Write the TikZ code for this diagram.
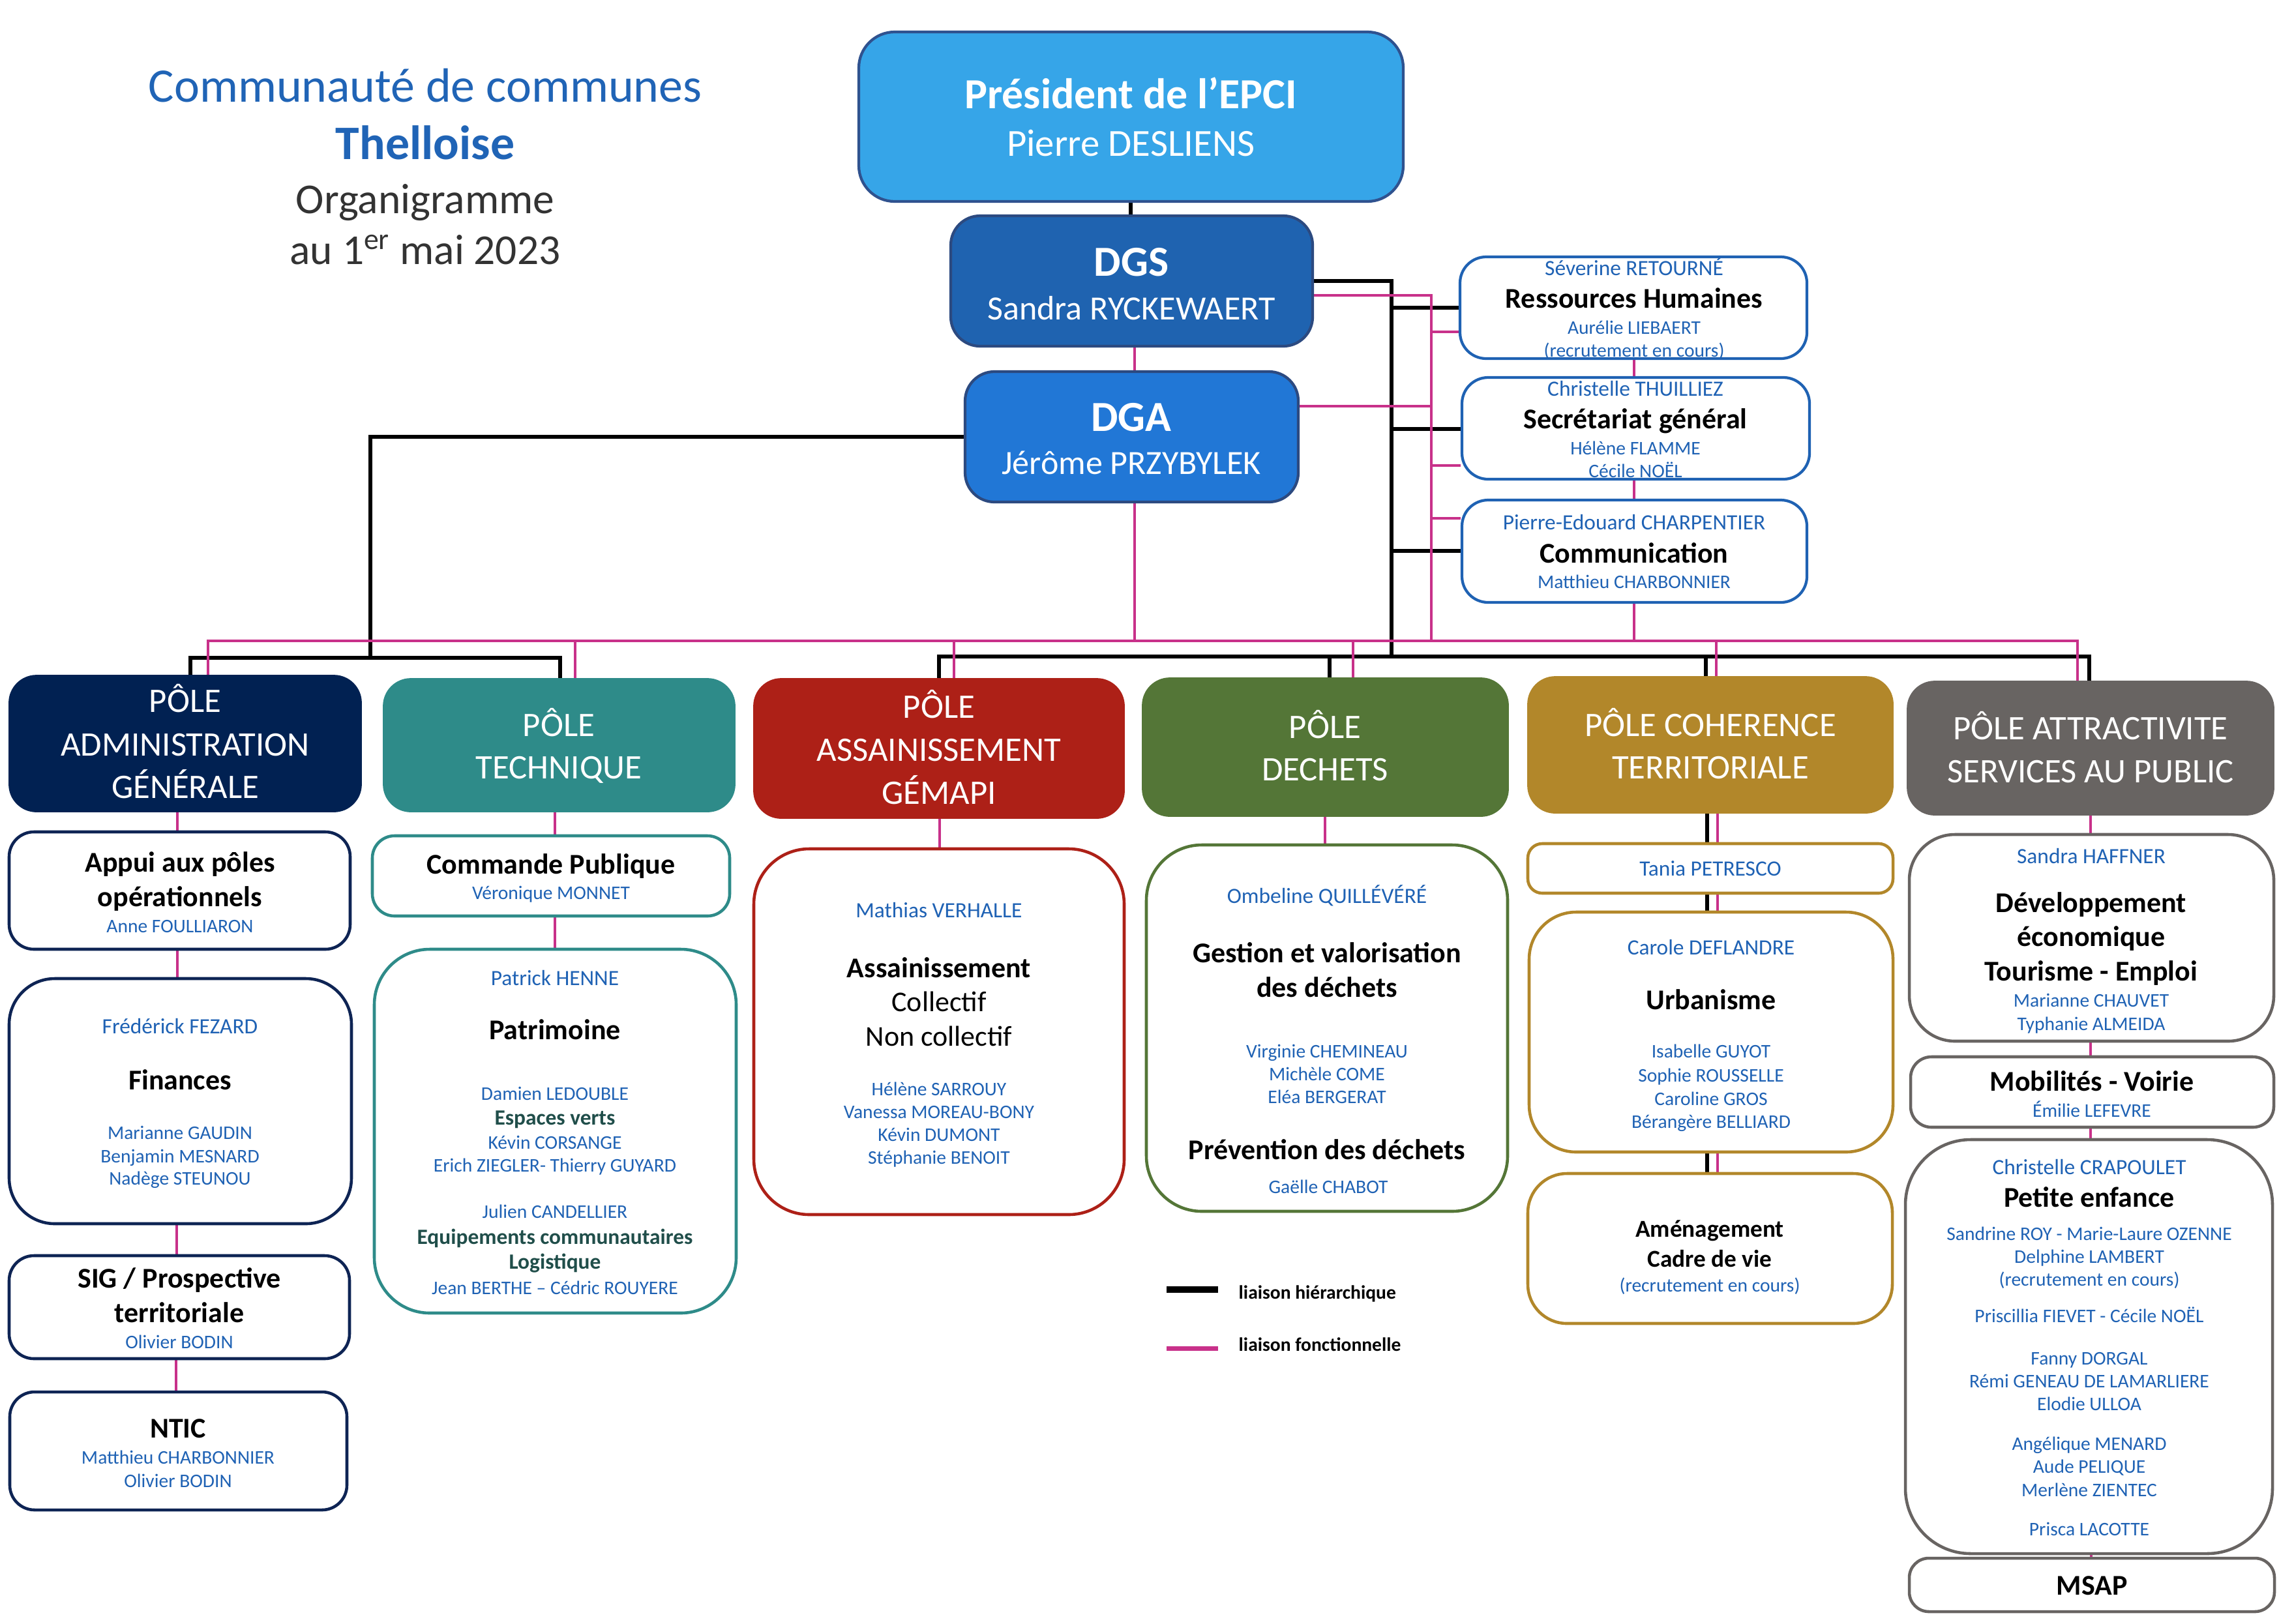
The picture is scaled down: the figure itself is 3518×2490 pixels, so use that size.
\documentclass[tikz,border=0pt]{standalone}
\usepackage{fontspec}
\setmainfont{Carlito}
\usetikzlibrary{backgrounds}
\definecolor{pres}{RGB}{54,165,232}
\definecolor{presb}{RGB}{47,82,143}
\definecolor{dgsc}{RGB}{31,99,176}
\definecolor{dgac}{RGB}{33,119,214}
\definecolor{dgb}{RGB}{44,74,128}
\definecolor{rhb}{RGB}{31,98,179}
\definecolor{mag}{RGB}{200,49,138}
\definecolor{nameblue}{RGB}{31,98,180}
\definecolor{titleblue}{RGB}{32,100,182}
\definecolor{titlegray}{RGB}{51,51,51}
\definecolor{pa}{RGB}{1,33,82}
\definecolor{pab}{RGB}{14,36,84}
\definecolor{pb}{RGB}{46,139,137}
\definecolor{pc}{RGB}{173,32,23}
\definecolor{pd}{RGB}{84,118,55}
\definecolor{pe}{RGB}{178,135,42}
\definecolor{pf}{RGB}{104,100,98}
\definecolor{tealtext}{RGB}{32,78,74}
\newcommand\bx[6]{\node[#2, minimum width={(#5-#3)*0.01cm}, minimum height={(#6-#4)*0.01cm}, inner sep=0pt] (#1) at ({(#3+#5)/2},{(#4+#6)/2}) {};}
\newcommand\tx[5]{\node[#4, anchor=base, inner sep=0pt] (#1) at (#2,#3) {#5};}
\tikzset{
  presbox/.style={fill=pres, draw=presb, line width=1.2pt, rounded corners=0.55cm},
  dgsbox/.style={fill=dgsc, draw=dgb, line width=1.2pt, rounded corners=0.45cm},
  dgabox/.style={fill=dgac, draw=dgb, line width=1.2pt, rounded corners=0.45cm},
  rbox/.style={fill=white, draw=rhb, line width=1.2pt, rounded corners=0.4cm},
  polebox/.style={fill=#1, draw=#1, line width=0.5pt, rounded corners=0.42cm},
  sbox/.style 2 args={fill=white, draw=#1, line width=1.3pt, rounded corners=#2},
  hier/.style={line width=1.45pt, black},
  func/.style={line width=1pt, mag},
  ttitle/.style={font=\fontsize{21}{25}\selectfont, text=titleblue},
  ttitleb/.style={font=\fontsize{21}{25}\selectfont\bfseries, text=titleblue},
  tgray/.style={font=\fontsize{18.6}{22}\selectfont, text=titlegray},
  bigb/.style={font=\fontsize{18.7}{22}\selectfont\bfseries, text=white},
  bign/.style={font=\fontsize{16.7}{20}\selectfont, text=white},
  medn/.style={font=\fontsize{14.8}{18}\selectfont, text=white},
  polet/.style={font=\fontsize{15}{18}\selectfont, text=white},
  ttl/.style={font=\fontsize{12.5}{15}\selectfont\bfseries, text=black},
  ttr/.style={font=\fontsize{12.5}{15}\selectfont, text=black},
  ttm/.style={font=\fontsize{10.6}{13}\selectfont\bfseries, text=black},
  lead/.style={font=\fontsize{9.5}{11}\selectfont, text=nameblue},
  team/.style={font=\fontsize{8.4}{10}\selectfont, text=nameblue},
  tealb/.style={font=\fontsize{9.5}{11}\selectfont\bfseries, text=tealtext},
  legt/.style={font=\fontsize{8.4}{10}\selectfont\bfseries, text=black, anchor=base west}
}
\begin{document}
\begin{tikzpicture}[x=0.01cm, y=-0.01cm]
\useasboundingbox (0,0) rectangle (3518,2490);
% title
\tx{tA}{652}{156}{ttitle}{Communauté de communes}
\tx{tB}{652}{244}{ttitleb}{Thelloise}
\tx{tC}{652}{327}{tgray}{Organigramme}
\tx{tD}{652}{405}{tgray}{au 1\textsuperscript{er} mai 2023}
% top boxes
\bx{pres}{presbox}{1317}{49}{2152}{309}
\bx{dgs}{dgsbox}{1458}{331}{2013}{531}
\bx{dga}{dgabox}{1480}{570}{1991}{770}
\tx{presA}{1734}{166}{bigb}{Président de l’EPCI}
\tx{presB}{1734}{239}{bign}{Pierre DESLIENS}
\tx{dgsA}{1735}{423}{bigb}{DGS}
\tx{dgsB}{1735}{490}{medn}{Sandra RYCKEWAERT}
\tx{dgaA}{1735}{661}{bigb}{DGA}
\tx{dgaB}{1735}{727}{medn}{Jérôme PRZYBYLEK}
% right boxes
\bx{rh}{rbox}{2239}{394}{2771}{550}
\bx{sg}{rbox}{2242}{579}{2775}{735}
\bx{com}{rbox}{2242}{767}{2771}{924}
\tx{rhA}{2506}{422}{lead}{Séverine RETOURNÉ}
\tx{rhB}{2506}{472}{ttl}{Ressources Humaines}
\tx{rhC}{2506}{512}{team}{Aurélie LIEBAERT}
\tx{rhD}{2506}{547}{team}{(recrutement en cours)}
\tx{sgA}{2508}{607}{lead}{Christelle THUILLIEZ}
\tx{sgB}{2508}{657}{ttl}{Secrétariat général}
\tx{sgC}{2508}{697}{team}{Hélène FLAMME}
\tx{sgD}{2508}{732}{team}{Cécile NOËL}
\tx{comA}{2506}{812}{lead}{Pierre-Edouard CHARPENTIER}
\tx{comB}{2506}{863}{ttl}{Communication}
\tx{comC}{2506}{902}{team}{Matthieu CHARBONNIER}
% poles
\bx{p1}{polebox=pa}{14}{1036}{554}{1245}
\bx{p2}{polebox=pb}{588}{1041}{1127}{1245}
\bx{p3}{polebox=pc}{1156}{1041}{1724}{1255}
\bx{p4}{polebox=pd}{1752}{1040}{2313}{1252}
\bx{p5}{polebox=pe}{2343}{1038}{2903}{1247}
\bx{p6}{polebox=pf}{2925}{1045}{3487}{1250}
\tx{p1A}{284}{1092}{polet}{PÔLE}
\tx{p1B}{284}{1159}{polet}{ADMINISTRATION}
\tx{p1C}{284}{1224}{polet}{GÉNÉRALE}
\tx{p2A}{857}{1129}{polet}{PÔLE}
\tx{p2B}{857}{1194}{polet}{TECHNIQUE}
\tx{p3A}{1440}{1101}{polet}{PÔLE}
\tx{p3B}{1440}{1167}{polet}{ASSAINISSEMENT}
\tx{p3C}{1440}{1233}{polet}{GÉMAPI}
\tx{p4A}{2032}{1132}{polet}{PÔLE}
\tx{p4B}{2032}{1197}{polet}{DECHETS}
\tx{p5A}{2623}{1129}{polet}{PÔLE COHERENCE}
\tx{p5B}{2623}{1194}{polet}{TERRITORIALE}
\tx{p6A}{3206}{1134}{polet}{PÔLE ATTRACTIVITE}
\tx{p6B}{3206}{1200}{polet}{SERVICES AU PUBLIC}
% column 1
\bx{app}{sbox={pab}{0.38cm}}{14}{1276}{537}{1456}
\bx{fin}{sbox={pab}{0.70cm}}{14}{1501}{539}{1877}
\bx{sig}{sbox={pab}{0.38cm}}{14}{1926}{536}{2084}
\bx{ntic}{sbox={pab}{0.38cm}}{15}{2135}{532}{2316}
\tx{appA}{276}{1337}{ttl}{Appui aux pôles}
\tx{appB}{276}{1390}{ttl}{opérationnels}
\tx{appC}{276}{1430}{team}{Anne FOULLIARON}
\tx{finA}{276}{1585}{lead}{Frédérick FEZARD}
\tx{finB}{276}{1671}{ttl}{Finances}
\tx{finC}{276}{1747}{team}{Marianne GAUDIN}
\tx{finD}{276}{1783}{team}{Benjamin MESNARD}
\tx{finE}{276}{1817}{team}{Nadège STEUNOU}
\tx{sigA}{275}{1975}{ttl}{SIG / Prospective}
\tx{sigB}{275}{2028}{ttl}{territoriale}
\tx{sigC}{275}{2068}{team}{Olivier BODIN}
\tx{nticA}{273}{2205}{ttl}{NTIC}
\tx{nticB}{273}{2245}{team}{Matthieu CHARBONNIER}
\tx{nticC}{273}{2281}{team}{Olivier BODIN}
% column 2
\bx{cp}{sbox={pb}{0.34cm}}{571}{1282}{1119}{1405}
\bx{pat}{sbox={pb}{0.85cm}}{574}{1456}{1129}{2014}
\tx{cpA}{845}{1340}{ttl}{Commande Publique}
\tx{cpB}{845}{1379}{team}{Véronique MONNET}
\tx{patA}{851}{1511}{lead}{Patrick HENNE}
\tx{patB}{851}{1594}{ttl}{Patrimoine}
\tx{patC}{851}{1687}{team}{Damien LEDOUBLE}
\tx{patD}{851}{1725}{tealb}{Espaces verts}
\tx{patE}{851}{1762}{team}{Kévin CORSANGE}
\tx{patF}{851}{1797}{team}{Erich ZIEGLER- Thierry GUYARD}
\tx{patG}{851}{1868}{team}{Julien CANDELLIER}
\tx{patH}{851}{1908}{tealb}{Equipements communautaires}
\tx{patI}{851}{1946}{tealb}{Logistique}
\tx{patJ}{851}{1985}{team}{Jean BERTHE – Cédric ROUYERE}
% column 3
\bx{ass}{sbox={pc}{0.85cm}}{1156}{1302}{1724}{1863}
\tx{assA}{1440}{1407}{lead}{Mathias VERHALLE}
\tx{assB}{1440}{1499}{ttl}{Assainissement}
\tx{assC}{1440}{1551}{ttr}{Collectif}
\tx{assD}{1440}{1604}{ttr}{Non collectif}
\tx{assE}{1440}{1680}{team}{Hélène SARROUY}
\tx{assF}{1440}{1715}{team}{Vanessa MOREAU-BONY}
\tx{assG}{1440}{1750}{team}{Kévin DUMONT}
\tx{assH}{1440}{1785}{team}{Stéphanie BENOIT}
% column 4
\bx{dec}{sbox={pd}{0.85cm}}{1758}{1296}{2312}{1858}
\tx{decA}{2035}{1385}{lead}{Ombeline QUILLÉVÉRÉ}
\tx{decB}{2035}{1476}{ttl}{Gestion et valorisation}
\tx{decC}{2035}{1529}{ttl}{des déchets}
\tx{decD}{2035}{1622}{team}{Virginie CHEMINEAU}
\tx{decE}{2035}{1657}{team}{Michèle COME}
\tx{decF}{2035}{1692}{team}{Eléa BERGERAT}
\tx{decG}{2035}{1778}{ttl}{Prévention des déchets}
\tx{decH}{2037}{1830}{team}{Gaëlle CHABOT}
% column 5
\bx{tan}{sbox={pe}{0.22cm}}{2343}{1294}{2903}{1370}
\bx{urb}{sbox={pe}{0.72cm}}{2345}{1399}{2903}{1767}
\bx{ame}{sbox={pe}{0.60cm}}{2343}{1800}{2902}{2030}
\tx{tanA}{2623}{1343}{lead}{Tania PETRESCO}
\tx{urbA}{2624}{1464}{lead}{Carole DEFLANDRE}
\tx{urbB}{2624}{1548}{ttl}{Urbanisme}
\tx{urbC}{2624}{1622}{team}{Isabelle GUYOT}
\tx{urbD}{2624}{1659}{team}{Sophie ROUSSELLE}
\tx{urbE}{2624}{1695}{team}{Caroline GROS}
\tx{urbF}{2624}{1730}{team}{Bérangère BELLIARD}
\tx{ameA}{2622}{1897}{ttm}{Aménagement}
\tx{ameB}{2622}{1943}{ttm}{Cadre de vie}
\tx{ameC}{2622}{1981}{team}{(recrutement en cours)}
% column 6
\bx{dev}{sbox={pf}{0.70cm}}{2928}{1280}{3487}{1597}
\bx{mob}{sbox={pf}{0.32cm}}{2930}{1621}{3487}{1729}
\bx{pen}{sbox={pf}{1.00cm}}{2922}{1748}{3485}{2383}
\bx{msap}{sbox={pf}{0.30cm}}{2928}{2390}{3488}{2472}
\tx{devA}{3207}{1324}{lead}{Sandra HAFFNER}
\tx{devB}{3207}{1399}{ttl}{Développement}
\tx{devC}{3207}{1451}{ttl}{économique}
\tx{devD}{3207}{1504}{ttl}{Tourisme - Emploi}
\tx{devE}{3207}{1544}{team}{Marianne CHAUVET}
\tx{devF}{3207}{1580}{team}{Typhanie ALMEIDA}
\tx{mobA}{3208}{1673}{ttl}{Mobilités - Voirie}
\tx{mobB}{3208}{1713}{team}{Émilie LEFEVRE}
\tx{penA}{3204}{1801}{lead}{Christelle CRAPOULET}
\tx{penB}{3204}{1851}{ttl}{Petite enfance}
\tx{penC}{3204}{1902}{team}{Sandrine ROY - Marie-Laure OZENNE}
\tx{penD}{3204}{1937}{team}{Delphine LAMBERT}
\tx{penE}{3204}{1972}{team}{(recrutement en cours)}
\tx{penF}{3204}{2028}{team}{Priscillia FIEVET - Cécile NOËL}
\tx{penG}{3204}{2093}{team}{Fanny DORGAL}
\tx{penH}{3204}{2128}{team}{Rémi GENEAU DE LAMARLIERE}
\tx{penI}{3204}{2163}{team}{Elodie ULLOA}
\tx{penJ}{3204}{2224}{team}{Angélique MENARD}
\tx{penK}{3204}{2259}{team}{Aude PELIQUE}
\tx{penL}{3204}{2295}{team}{Merlène ZIENTEC}
\tx{penM}{3204}{2355}{team}{Prisca LACOTTE}
\tx{msapA}{3208}{2446}{ttl}{MSAP}
% legend
\coordinate (lgAa) at (1789,1978);
\coordinate (lgAb) at (1868,1978);
\coordinate (lgBa) at (1789,2068);
\coordinate (lgBb) at (1868,2068);
\draw[black, line width=2.85pt] (lgAa) -- (lgAb);
\draw[mag, line width=2pt] (lgBa) -- (lgBb);
\node[legt, inner sep=0pt] (lgA) at (1899,1992) {liaison hiérarchique};
\node[legt, inner sep=0pt] (lgB) at (1899,2072) {liaison fonctionnelle};
% connectors
\coordinate (hbR) at (2134,1007);
\coordinate (hbL) at (568,1009);
\coordinate (fbR) at (2195,983);
\coordinate (busE) at (3186,983);
\begin{scope}[on background layer]
% hierarchical
\draw[hier] (pres.south -| 1734,0) -- (dgs.north -| 1734,0);
\draw[hier] (dgs.east |- 0,431) -| (hbR);
\draw[hier] (hbR |- 0,472) -- (rh.west |- 0,472);
\draw[hier] (hbR |- 0,658) -- (sg.west |- 0,658);
\draw[hier] (hbR |- 0,845) -- (com.west |- 0,845);
\draw[hier] (dga.west |- 0,670) -| (hbL);
\draw[hier] (p1.north -| 292,0) |- (hbL) -| (p2.north -| 859,0);
\draw[hier] (p3.north -| 1440,0) |- (hbR) -| (p6.north -| 3204,0);
\draw[hier] (p4.north -| 2039,0) -- (2039,1007);
\draw[hier] (p5.north -| 2616,0) -- (2616,1007);
\draw[hier] (p5.south -| 2618,0) -- (tan.north -| 2618,0);
\draw[hier] (tan.south -| 2618,0) -- (urb.north -| 2618,0);
\draw[hier] (urb.south -| 2618,0) -- (ame.north -| 2618,0);
% functional
\draw[func] (dgs.south -| 1740,0) -- (dga.north -| 1740,0);
\draw[func] (dga.south -| 1740,0) -- (1740,983);
\draw[func, line width=1.15pt] (p1.north -| 319,0) |- (busE) -- (p6.north -| busE);
\draw[func] (p2.north -| 882,0) -- (882,983);
\draw[func] (p3.north -| 1463,0) -- (1463,983);
\draw[func] (p4.north -| 2075,0) -- (2075,983);
\draw[func] (p5.north -| 2632,0) -- (2632,983);
\draw[func] (dgs.east |- 0,453) -| (fbR);
\draw[func] (dga.east |- 0,623) -- (fbR |- 0,623);
\draw[func] (fbR |- 0,509) -- (rh.west |- 0,509);
\draw[func] (fbR |- 0,714) -- (sg.west |- 0,714);
\draw[func] (fbR |- 0,795) -- (com.west |- 0,795);
\draw[func] (rh.south -| 2506,0) -- (sg.north -| 2506,0);
\draw[func] (sg.south -| 2506,0) -- (com.north -| 2506,0);
\draw[func] (com.south -| 2506,0) -- (2506,983);
\draw[func] (p1.south -| 272,0) -- (app.north -| 272,0);
\draw[func] (app.south -| 272,0) -- (fin.north -| 272,0);
\draw[func] (fin.south -| 271,0) -- (sig.north -| 271,0);
\draw[func] (sig.south -| 270,0) -- (ntic.north -| 270,0);
\draw[func] (p2.south -| 851,0) -- (cp.north -| 851,0);
\draw[func] (cp.south -| 851,0) -- (pat.north -| 851,0);
\draw[func] (p3.south -| 1441,0) -- (ass.north -| 1441,0);
\draw[func] (p4.south -| 2032,0) -- (dec.north -| 2032,0);
\draw[func] (p5.south -| 2634,0) -- (tan.north -| 2634,0);
\draw[func] (tan.south -| 2634,0) -- (urb.north -| 2634,0);
\draw[func] (urb.south -| 2634,0) -- (ame.north -| 2634,0);
\draw[func] (p6.south -| 3206,0) -- (dev.north -| 3206,0);
\draw[func] (dev.south -| 3206,0) -- (mob.north -| 3206,0);
\draw[func] (mob.south -| 3206,0) -- (pen.north -| 3206,0);
\draw[func] (pen.south -| 3207,0) -- (msap.north -| 3207,0);
\end{scope}
\end{tikzpicture}
\end{document}
